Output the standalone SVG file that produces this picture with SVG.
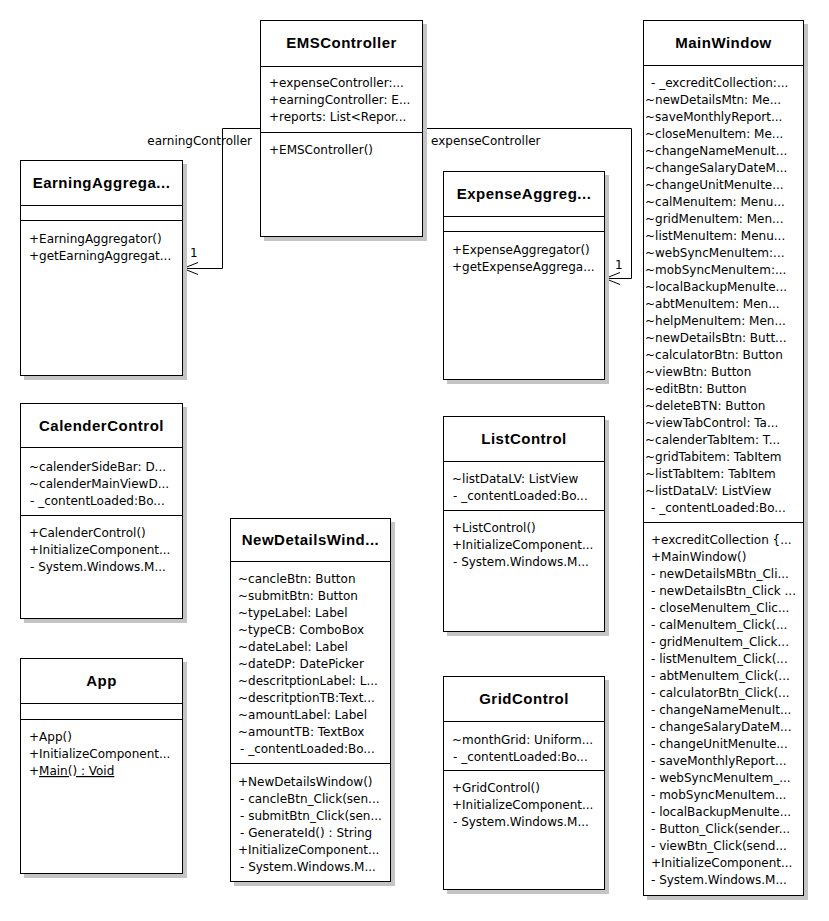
<svg xmlns="http://www.w3.org/2000/svg" width="829" height="921" viewBox="0 0 829 921">
<defs>
<style>
.shadow{fill:#c4c4c4}
.box{fill:#fff;stroke:#000;stroke-width:1}
.sep{stroke:#000;stroke-width:1}
.title{font-family:"Liberation Sans",Arial,sans-serif;font-weight:bold;font-size:15px;letter-spacing:0.5px;text-anchor:middle;fill:#000}
.m{font-family:"DejaVu Sans",Verdana,sans-serif;font-size:12px;fill:#000}
.conn{fill:none;stroke:#000;stroke-width:1}
</style>
<marker id="open" markerUnits="userSpaceOnUse" markerWidth="17" markerHeight="15" refX="15.5" refY="7" orient="auto">
<path d="M0.5,1 L15.5,7 L0.5,13" fill="none" stroke="#000" stroke-width="1"/>
</marker>
</defs>
<rect width="829" height="921" fill="#fff"/>

<g id="connectors">
<path class="conn" d="M260,128.5 H222.5 V268.5 H183" marker-end="url(#open)"/>
<path class="conn" d="M423,128.5 H631.5 V278.5 H605" marker-end="url(#open)"/>
<text class="m" x="252" y="145" text-anchor="end">earningController</text>
<text class="m" x="431" y="145">expenseController</text>
<text class="m" x="190" y="257">1</text>
<text class="m" x="615" y="269">1</text>
</g>

<g id="EMSController">
<rect class="shadow" x="264" y="24" width="163" height="217"/>
<rect class="box" x="260.5" y="20.5" width="162" height="216"/>
<line class="sep" x1="260" y1="66.5" x2="423" y2="66.5"/>
<line class="sep" x1="260" y1="132.5" x2="423" y2="132.5"/>
<text class="title" x="341.5" y="48">EMSController</text>
<text class="m" x="269" y="87">+expenseController:...</text>
<text class="m" x="269" y="104">+earningController: E...</text>
<text class="m" x="269" y="121">+reports: List&lt;Repor...</text>
<text class="m" x="269" y="154">+EMSController()</text>
</g>

<g id="EarningAggregator">
<rect class="shadow" x="24" y="164" width="163" height="216"/>
<rect class="box" x="20.5" y="160.5" width="162" height="215"/>
<line class="sep" x1="20" y1="205.5" x2="183" y2="205.5"/>
<line class="sep" x1="20" y1="220.5" x2="183" y2="220.5"/>
<text class="title" x="101.5" y="188">EarningAggrega...</text>
<text class="m" x="29" y="243">+EarningAggregator()</text>
<text class="m" x="29" y="260">+getEarningAggregat...</text>
</g>

<g id="ExpenseAggregator">
<rect class="shadow" x="447" y="175" width="162" height="209"/>
<rect class="box" x="443.5" y="171.5" width="161" height="208"/>
<line class="sep" x1="443" y1="216.5" x2="605" y2="216.5"/>
<line class="sep" x1="443" y1="231.5" x2="605" y2="231.5"/>
<text class="title" x="524" y="199">ExpenseAggreg...</text>
<text class="m" x="452" y="254">+ExpenseAggregator()</text>
<text class="m" x="452" y="271">+getExpenseAggrega...</text>
</g>

<g id="MainWindow">
<rect class="shadow" x="647" y="24" width="161" height="876"/>
<rect class="box" x="643.5" y="20.5" width="160" height="875"/>
<line class="sep" x1="643" y1="65.5" x2="804" y2="65.5"/>
<line class="sep" x1="643" y1="522.5" x2="804" y2="522.5"/>
<text class="title" x="723.5" y="48">MainWindow</text>
<text class="m" x="651" y="87">- _excreditCollection:...</text>
<text class="m" x="645" y="104">~newDetailsMtn: Me...</text>
<text class="m" x="645" y="121">~saveMonthlyReport...</text>
<text class="m" x="645" y="138">~closeMenuItem: Me...</text>
<text class="m" x="645" y="155">~changeNameMenuIt...</text>
<text class="m" x="645" y="172">~changeSalaryDateM...</text>
<text class="m" x="645" y="189">~changeUnitMenuIte...</text>
<text class="m" x="645" y="206">~calMenuItem: Menu...</text>
<text class="m" x="645" y="223">~gridMenuItem: Men...</text>
<text class="m" x="645" y="240">~listMenuItem: Menu...</text>
<text class="m" x="645" y="257">~webSyncMenuItem:...</text>
<text class="m" x="645" y="274">~mobSyncMenuItem:...</text>
<text class="m" x="645" y="291">~localBackupMenuIte...</text>
<text class="m" x="645" y="308">~abtMenuItem: Men...</text>
<text class="m" x="645" y="325">~helpMenuItem: Men...</text>
<text class="m" x="645" y="342">~newDetailsBtn: Butt...</text>
<text class="m" x="645" y="359">~calculatorBtn: Button</text>
<text class="m" x="645" y="376">~viewBtn: Button</text>
<text class="m" x="645" y="393">~editBtn: Button</text>
<text class="m" x="645" y="410">~deleteBTN: Button</text>
<text class="m" x="645" y="427">~viewTabControl: Ta...</text>
<text class="m" x="645" y="444">~calenderTabItem: T...</text>
<text class="m" x="645" y="461">~gridTabitem: TabItem</text>
<text class="m" x="645" y="478">~listTabItem: TabItem</text>
<text class="m" x="645" y="495">~listDataLV: ListView</text>
<text class="m" x="651" y="512">- _contentLoaded:Bo...</text>
<text class="m" x="651" y="544">+excreditCollection {...</text>
<text class="m" x="651" y="561">+MainWindow()</text>
<text class="m" x="651" y="578">- newDetailsMBtn_Cli...</text>
<text class="m" x="651" y="595">- newDetailsBtn_Click ...</text>
<text class="m" x="651" y="612">- closeMenuItem_Clic...</text>
<text class="m" x="651" y="629">- calMenuItem_Click(...</text>
<text class="m" x="651" y="646">- gridMenuItem_Click...</text>
<text class="m" x="651" y="663">- listMenuItem_Click(...</text>
<text class="m" x="651" y="680">- abtMenuItem_Click(...</text>
<text class="m" x="651" y="697">- calculatorBtn_Click(...</text>
<text class="m" x="651" y="714">- changeNameMenuIt...</text>
<text class="m" x="651" y="731">- changeSalaryDateM...</text>
<text class="m" x="651" y="748">- changeUnitMenuIte...</text>
<text class="m" x="651" y="765">- saveMonthlyReport...</text>
<text class="m" x="651" y="782">- webSyncMenuItem_...</text>
<text class="m" x="651" y="799">- mobSyncMenuItem...</text>
<text class="m" x="651" y="816">- localBackupMenuIte...</text>
<text class="m" x="651" y="833">- Button_Click(sender...</text>
<text class="m" x="651" y="850">- viewBtn_Click(send...</text>
<text class="m" x="651" y="867">+InitializeComponent...</text>
<text class="m" x="651" y="884">- System.Windows.M...</text>
</g>

<g id="CalenderControl">
<rect class="shadow" x="24" y="407" width="163" height="216"/>
<rect class="box" x="20.5" y="403.5" width="162" height="215"/>
<line class="sep" x1="20" y1="447.5" x2="183" y2="447.5"/>
<line class="sep" x1="20" y1="515.5" x2="183" y2="515.5"/>
<text class="title" x="101.5" y="431">CalenderControl</text>
<text class="m" x="29" y="471">~calenderSideBar: D...</text>
<text class="m" x="29" y="488">~calenderMainViewD...</text>
<text class="m" x="30" y="505">- _contentLoaded:Bo...</text>
<text class="m" x="29" y="537">+CalenderControl()</text>
<text class="m" x="29" y="554">+InitializeComponent...</text>
<text class="m" x="30" y="571">- System.Windows.M...</text>
</g>

<g id="App">
<rect class="shadow" x="24" y="662" width="163" height="216"/>
<rect class="box" x="20.5" y="658.5" width="162" height="215"/>
<line class="sep" x1="20" y1="703.5" x2="183" y2="703.5"/>
<line class="sep" x1="20" y1="719.5" x2="183" y2="719.5"/>
<text class="title" x="101.5" y="686">App</text>
<text class="m" x="29" y="741">+App()</text>
<text class="m" x="29" y="758">+InitializeComponent...</text>
<text class="m" x="29" y="775">+<tspan text-decoration="underline">Main() : Void</tspan></text>
</g>

<g id="NewDetailsWindow">
<rect class="shadow" x="234" y="522" width="161" height="364"/>
<rect class="box" x="230.5" y="518.5" width="160" height="363"/>
<line class="sep" x1="230" y1="561.5" x2="391" y2="561.5"/>
<line class="sep" x1="230" y1="763.5" x2="391" y2="763.5"/>
<text class="title" x="310.5" y="545">NewDetailsWind...</text>
<text class="m" x="238" y="583">~cancleBtn: Button</text>
<text class="m" x="238" y="600">~submitBtn: Button</text>
<text class="m" x="238" y="617">~typeLabel: Label</text>
<text class="m" x="238" y="634">~typeCB: ComboBox</text>
<text class="m" x="238" y="651">~dateLabel: Label</text>
<text class="m" x="238" y="668">~dateDP: DatePicker</text>
<text class="m" x="238" y="685">~descritptionLabel: L...</text>
<text class="m" x="238" y="702">~descritptionTB:Text...</text>
<text class="m" x="238" y="719">~amountLabel: Label</text>
<text class="m" x="238" y="736">~amountTB: TextBox</text>
<text class="m" x="240" y="753">- _contentLoaded:Bo...</text>
<text class="m" x="238" y="786">+NewDetailsWindow()</text>
<text class="m" x="240" y="803">- cancleBtn_Click(sen...</text>
<text class="m" x="240" y="820">- submitBtn_Click(sen...</text>
<text class="m" x="240" y="837">- GenerateId() : String</text>
<text class="m" x="238" y="854">+InitializeComponent...</text>
<text class="m" x="240" y="871">- System.Windows.M...</text>
</g>

<g id="ListControl">
<rect class="shadow" x="447" y="420" width="162" height="216"/>
<rect class="box" x="443.5" y="416.5" width="161" height="215"/>
<line class="sep" x1="443" y1="461.5" x2="605" y2="461.5"/>
<line class="sep" x1="443" y1="510.5" x2="605" y2="510.5"/>
<text class="title" x="524" y="444">ListControl</text>
<text class="m" x="452" y="483">~listDataLV: ListView</text>
<text class="m" x="453" y="500">- _contentLoaded:Bo...</text>
<text class="m" x="452" y="532">+ListControl()</text>
<text class="m" x="452" y="549">+InitializeComponent...</text>
<text class="m" x="453" y="566">- System.Windows.M...</text>
</g>

<g id="GridControl">
<rect class="shadow" x="447" y="680" width="162" height="214"/>
<rect class="box" x="443.5" y="676.5" width="161" height="213"/>
<line class="sep" x1="443" y1="721.5" x2="605" y2="721.5"/>
<line class="sep" x1="443" y1="770.5" x2="605" y2="770.5"/>
<text class="title" x="524" y="704">GridControl</text>
<text class="m" x="452" y="744">~monthGrid: Uniform...</text>
<text class="m" x="453" y="761">- _contentLoaded:Bo...</text>
<text class="m" x="452" y="792">+GridControl()</text>
<text class="m" x="452" y="809">+InitializeComponent...</text>
<text class="m" x="453" y="826">- System.Windows.M...</text>
</g>
</svg>
